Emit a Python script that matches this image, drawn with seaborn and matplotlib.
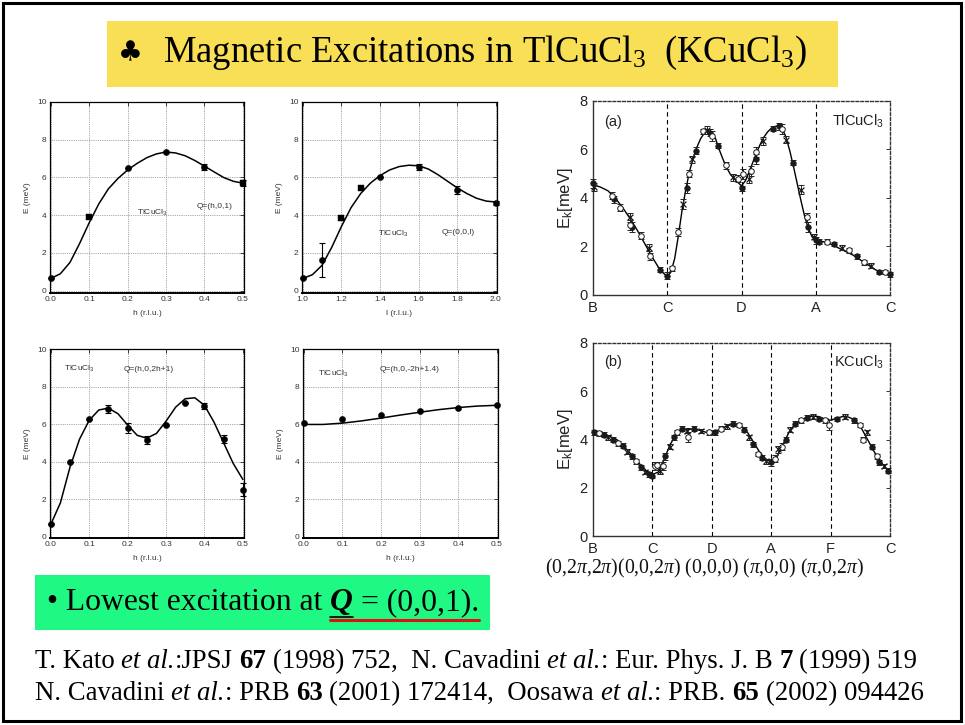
import matplotlib
matplotlib.use("Agg")
import numpy as np
import pandas as pd
import matplotlib.pyplot as plt
import seaborn as sns
from matplotlib.patches import Rectangle
from matplotlib.lines import Line2D

# ---------------- data ----------------
# Q = (h,0,1)
p1_h = [0.0, 0.1, 0.2, 0.3, 0.4, 0.5]
p1_E = [0.65, 3.9, 6.5, 7.35, 6.55, 5.7]
p1_err = [0.0, 0.0, 0.0, 0.0, 0.15, 0.15]
p1_mark = ["o", "s", "o", "o", "o", "s"]
p1_fit_h = [0.0, 0.025, 0.05, 0.075, 0.1, 0.125, 0.15, 0.175, 0.2, 0.225, 0.25,
            0.275, 0.3, 0.325, 0.35, 0.375, 0.4, 0.425, 0.45, 0.475, 0.5]
p1_fit_E = [0.65, 0.9, 1.5, 2.5, 3.6, 4.6, 5.4, 5.95, 6.4, 6.75, 7.05,
            7.25, 7.35, 7.3, 7.15, 6.9, 6.6, 6.3, 6.0, 5.8, 5.7]

# Q = (0,0,l)
p2_l = [1.0, 1.1, 1.2, 1.3, 1.4, 1.6, 1.8, 2.0]
p2_E = [0.65, 1.65, 3.85, 5.45, 6.05, 6.55, 5.35, 4.65]
p2_err = [0.0, 0.9, 0.0, 0.0, 0.0, 0.15, 0.2, 0.1]
p2_mark = ["o", "o", "s", "s", "o", "o", "o", "o"]
p2_fit_l = [1.0, 1.05, 1.1, 1.15, 1.2, 1.25, 1.3, 1.35, 1.4, 1.45, 1.5,
            1.55, 1.6, 1.65, 1.7, 1.75, 1.8, 1.85, 1.9, 1.95, 2.0]
p2_fit_E = [0.65, 0.85, 1.35, 2.3, 3.4, 4.4, 5.15, 5.7, 6.1, 6.4, 6.58,
            6.65, 6.62, 6.45, 6.15, 5.8, 5.45, 5.15, 4.9, 4.75, 4.7]

# Q = (h,0,2h+1)
p3_h = [0.0, 0.05, 0.1, 0.15, 0.2, 0.25, 0.3, 0.35, 0.4, 0.45, 0.5]
p3_E = [0.65, 4.0, 6.25, 6.8, 5.8, 5.15, 5.95, 7.1, 6.95, 5.2, 2.5]
p3_err = [0.0, 0.0, 0.0, 0.2, 0.25, 0.2, 0.0, 0.0, 0.15, 0.2, 0.35]
p3_fit_h = [0.0, 0.025, 0.05, 0.075, 0.1, 0.125, 0.15, 0.175, 0.2, 0.225, 0.25,
            0.275, 0.3, 0.325, 0.35, 0.375, 0.4, 0.425, 0.45, 0.475, 0.5]
p3_fit_E = [0.65, 1.8, 3.7, 5.2, 6.2, 6.75, 6.85, 6.55, 5.95, 5.4, 5.25,
            5.5, 6.15, 6.9, 7.35, 7.4, 7.0, 6.1, 5.0, 3.9, 3.05]

# Q = (h,0,-2h+1.4)
p4_h = [0.0, 0.1, 0.2, 0.3, 0.4, 0.5]
p4_E = [6.08, 6.28, 6.5, 6.67, 6.85, 7.01]
p4_fit_h = [0.0, 0.05, 0.1, 0.15, 0.2, 0.25, 0.3, 0.35, 0.4, 0.45, 0.5]
p4_fit_E = [5.98, 5.98, 6.05, 6.17, 6.32, 6.48, 6.63, 6.77, 6.88, 6.96, 7.0]

small_xticks_h = [0.0, 0.1, 0.2, 0.3, 0.4, 0.5]
small_xticks_l = [1.0, 1.2, 1.4, 1.6, 1.8, 2.0]
small_yticks = [0, 2, 4, 6, 8, 10]

# (a) TlCuCl3 along B-C-D-A-C
a_labels = ["B", "C", "D", "A", "C"]
a_fit_k = [0.0, 0.1, 0.2, 0.3, 0.4, 0.5, 0.6, 0.7, 0.8, 0.9, 1.0, 1.05, 1.1, 1.15,
           1.2, 1.25, 1.3, 1.35, 1.4, 1.45, 1.5, 1.55, 1.6, 1.65, 1.7, 1.75, 1.8,
           1.85, 1.9, 1.95, 2.0, 2.05, 2.1, 2.15, 2.2, 2.25, 2.3, 2.35, 2.4, 2.45,
           2.5, 2.55, 2.6, 2.65, 2.7, 2.75, 2.8, 2.85, 2.9, 2.95, 3.0, 3.1, 3.2,
           3.3, 3.4, 3.5, 3.6, 3.7, 3.8, 3.9, 4.0]
a_fit_E = [4.55, 4.45, 4.3, 4.0, 3.6, 3.15, 2.65, 2.1, 1.55, 1.05, 0.75, 0.95, 1.5,
           2.45, 3.5, 4.35, 5.1, 5.65, 6.1, 6.45, 6.68, 6.78, 6.72, 6.45, 6.0, 5.6,
           5.25, 4.98, 4.8, 4.65, 4.5, 4.7, 5.05, 5.45, 5.85, 6.2, 6.5, 6.72, 6.87,
           6.95, 6.98, 6.85, 6.5, 5.95, 5.3, 4.6, 3.9, 3.25, 2.75, 2.4, 2.25, 2.2,
           2.1, 1.95, 1.8, 1.65, 1.45, 1.25, 1.05, 0.9, 0.8]
a_k = [0.0, 0.02, 0.25, 0.28, 0.36, 0.5, 0.5, 0.52, 0.65, 0.76, 0.77, 0.9, 1.0, 1.06,
       1.15, 1.21, 1.26, 1.29, 1.33, 1.39, 1.48, 1.53, 1.58, 1.6, 1.68, 1.79, 1.88,
       1.95, 2.0, 2.02, 2.1, 2.13, 2.19, 2.2, 2.29, 2.43, 2.5, 2.55, 2.6, 2.69, 2.8,
       2.88, 2.9, 2.97, 3.0, 3.05, 3.15, 3.25, 3.35, 3.45, 3.55, 3.65, 3.75, 3.85,
       3.93, 4.0]
a_E = [4.6, 4.45, 4.1, 3.95, 3.6, 3.2, 2.9, 2.8, 2.45, 1.95, 1.6, 1.05, 0.8, 1.1,
       2.6, 3.75, 4.4, 5.0, 5.6, 5.95, 6.75, 6.8, 6.7, 6.55, 6.15, 5.35, 4.85,
       4.8, 4.4, 5.0, 4.8, 5.1, 5.6, 5.9, 6.35, 6.85, 6.95, 6.85, 6.4, 5.45, 4.35,
       3.2, 2.8, 2.4, 2.25, 2.2, 2.2, 2.1, 1.95, 1.85, 1.6, 1.35, 1.2, 0.95,
       0.95, 0.85]
a_err = [0.2, 0.15, 0.15, 0.15, 0.15, 0.2, 0.2, 0.2, 0.15, 0.15, 0.15, 0.1, 0.15, 0.1,
         0.15, 0.2, 0.2, 0.15, 0.15, 0.15, 0.1, 0.15, 0.15, 0.2, 0.1, 0.15, 0.15,
         0.15, 0.1, 0.2, 0.2, 0.2, 0.2, 0.2, 0.15, 0.1, 0.15, 0.2, 0.15, 0.1, 0.2,
         0.2, 0.2, 0.1, 0.15, 0.1, 0.1, 0.1, 0.1, 0.1, 0.1, 0.1, 0.1, 0.1,
         0.1, 0.1]
a_kind = ["f", "x", "o", "f", "o", "x", "o", "f", "o", "x", "o", "f", "f", "o",
          "o", "x", "f", "o", "x", "f", "o", "x", "f", "o", "f", "o", "x",
          "o", "f", "o", "x", "o", "f", "o", "x", "f", "f", "o", "x", "f", "x",
          "o", "f", "x", "f", "f", "o", "f", "x", "o", "f", "o", "x", "f",
          "o", "f"]

# (b) KCuCl3 along B-C-D-A-F-C
b_labels = ["B", "C", "D", "A", "F", "C"]
b_points = ["(0,2$\\pi$,2$\\pi$)", "(0,0,2$\\pi$)", "(0,0,0)", "($\\pi$,0,0)", "($\\pi$,0,2$\\pi$)"]
b_fit_k = [0.0, 0.2, 0.4, 0.6, 0.8, 0.9, 1.0, 1.1, 1.2, 1.3, 1.4, 1.5, 1.6, 1.7, 1.8,
           1.9, 2.0, 2.1, 2.2, 2.3, 2.4, 2.5, 2.6, 2.7, 2.8, 2.9, 3.0, 3.1, 3.2, 3.3,
           3.4, 3.5, 3.6, 3.7, 3.8, 3.9, 4.0, 4.1, 4.2, 4.3, 4.4, 4.5, 4.6, 4.7, 4.8,
           4.9, 5.0]
b_fit_E = [4.3, 4.22, 4.0, 3.5, 2.95, 2.7, 2.55, 2.65, 3.2, 3.8, 4.2, 4.4, 4.45, 4.42,
           4.38, 4.3, 4.3, 4.38, 4.5, 4.6, 4.65, 4.55, 4.3, 3.9, 3.5, 3.2, 3.1, 3.3,
           3.8, 4.3, 4.62, 4.8, 4.92, 4.97, 4.95, 4.85, 4.8, 4.88, 4.95, 4.93, 4.82,
           4.55, 4.1, 3.65, 3.2, 2.9, 2.65]
b_k = [0.02, 0.1, 0.18, 0.25, 0.33, 0.42, 0.5, 0.58, 0.65, 0.72, 0.8, 0.88, 0.95, 1.0,
       1.05, 1.08, 1.12, 1.18, 1.22, 1.3, 1.36, 1.42, 1.5, 1.58, 1.6, 1.7, 1.82, 1.95,
       2.05, 2.15, 2.25, 2.35, 2.45, 2.55, 2.62, 2.7, 2.78, 2.85, 2.92, 3.0, 3.06,
       3.12, 3.18, 3.25, 3.32, 3.4, 3.5, 3.6, 3.7, 3.8, 3.9, 3.98, 4.1, 4.25, 4.4,
       4.5, 4.55, 4.62, 4.7, 4.78, 4.82, 4.9, 4.97]
b_E = [4.3, 4.25, 4.2, 4.1, 4.0, 3.85, 3.75, 3.5, 3.3, 3.1, 2.85, 2.65, 2.55, 2.5,
       2.9, 2.95, 2.7, 2.9, 3.3, 3.7, 4.1, 4.3, 4.45, 4.35, 4.1, 4.45, 4.35, 4.3,
       4.3, 4.45, 4.55, 4.65, 4.6, 4.4, 4.1, 3.8, 3.4, 3.25, 3.1, 3.05, 3.2,
       3.6, 3.7, 4.0, 4.4, 4.65, 4.8, 4.9, 4.95, 4.85, 4.8, 4.6, 4.85, 4.95, 4.8,
       4.6, 4.0, 4.3, 3.7, 3.3, 3.05, 2.9, 2.7]
b_err = [0.1, 0.1, 0.1, 0.1, 0.1, 0.1, 0.1, 0.1, 0.1, 0.1, 0.1, 0.1, 0.1, 0.1,
         0.15, 0.1, 0.15, 0.15, 0.15, 0.1, 0.1, 0.1, 0.1, 0.1, 0.2, 0.1, 0.1, 0.1,
         0.1, 0.1, 0.1, 0.1, 0.1, 0.1, 0.1, 0.1, 0.1, 0.1, 0.1, 0.15, 0.15,
         0.15, 0.15, 0.1, 0.1, 0.1, 0.1, 0.1, 0.1, 0.1, 0.1, 0.2, 0.1, 0.1, 0.1,
         0.1, 0.1, 0.1, 0.1, 0.1, 0.1, 0.1, 0.1]
b_kind = ["f", "o", "f", "x", "f", "o", "f", "x", "f", "o", "f", "x", "f", "f",
          "o", "o", "x", "o", "f", "x", "f", "o", "f", "x", "o", "f", "x", "o",
          "f", "o", "x", "f", "o", "f", "x", "f", "o", "f", "x", "f", "o",
          "x", "o", "f", "x", "f", "o", "f", "x", "f", "o", "o", "f", "x", "f",
          "o", "o", "x", "f", "o", "f", "x", "f"]

# ---------------- style ----------------
sns.set_theme(style="white")
plt.rcParams["font.family"] = ["Liberation Sans", "DejaVu Sans"]
plt.rcParams["mathtext.fontset"] = "custom"
plt.rcParams["mathtext.rm"] = "Liberation Serif"
plt.rcParams["mathtext.it"] = "Liberation Serif:italic"
plt.rcParams["mathtext.bf"] = "Liberation Serif:bold"
plt.rcParams["mathtext.sf"] = "Liberation Sans"

W, H = 965, 725
fig = plt.figure(figsize=(W / 100, H / 100), dpi=100)
fig.patch.set_facecolor("white")


def ax_at(l, t, r, b):
    return fig.add_axes([l / W, 1 - b / H, (r - l) / W, (b - t) / H])


def fy(y):
    return 1 - y / H


def style_small(ax, xticks, xlim, ylim, xlabel):
    ax.set_xlim(*xlim)
    ax.set_ylim(*ylim)
    ax.set_xticks(xticks)
    ax.set_xticklabels([f"{v:.1f}" for v in xticks])
    ax.set_yticks(small_yticks)
    ax.set_yticklabels([str(v) for v in small_yticks])
    ax.grid(True, color="#8a8a8a", linestyle=(0, (1, 1.2)), linewidth=0.6)
    ax.tick_params(direction="in", length=3, width=0.6, top=True, right=True,
                   labelsize=6, labelcolor="#333333", pad=2.5, colors="#222222")
    for s in ax.spines.values():
        s.set_color("black")
        s.set_linewidth(0.9)
    ax.spines["bottom"].set_linewidth(1.4)
    ax.set_xlabel(xlabel, fontsize=6, color="#333333", labelpad=5)
    ax.set_ylabel("E (meV)", fontsize=6, color="#333333", labelpad=4)


def draw_points(ax, x, y, err=None, marks=None):
    df = pd.DataFrame({"x": x, "y": y, "m": marks if marks else ["o"] * len(x)})
    if err is not None:
        ax.errorbar(x, y, yerr=err, fmt="none", ecolor="black", elinewidth=0.8,
                    capsize=2.2, capthick=0.8, zorder=3, clip_on=False)
    for m in ["o", "s"]:
        sub = df[df["m"] == m]
        if len(sub):
            sns.scatterplot(data=sub, x="x", y="y", marker=m, color="black",
                            s=20 if m == "o" else 18, edgecolor="black", linewidth=0.3,
                            legend=False, ax=ax, zorder=4, clip_on=False)


def draw_fit(ax, x, y, lw=1.1):
    sns.lineplot(x=x, y=y, color="black", linewidth=lw, estimator=None,
                 sort=False, ax=ax, zorder=2)


# ---------------- small panels ----------------
ax1 = ax_at(50, 102, 244, 293)
draw_fit(ax1, p1_fit_h, p1_fit_E)
draw_points(ax1, p1_h, p1_E, p1_err, p1_mark)
style_small(ax1, small_xticks_h, (-0.002, 0.503), (-0.12, 10), "h (r.l.u.)")
ax1.text(0.265, 4.1, "TlCuCl$_\\mathsf{3}$", fontsize=6, color="#333333", ha="center", va="center")
ax1.text(0.427, 4.45, "Q=(h,0,1)", fontsize=6, color="#333333", ha="center", va="center")

ax2 = ax_at(302, 102, 497, 293)
draw_fit(ax2, p2_fit_l, p2_fit_E)
draw_points(ax2, p2_l, p2_E, p2_err, p2_mark)
style_small(ax2, small_xticks_l, (0.996, 2.006), (-0.12, 10), "l (r.l.u.)")
ax2.text(1.47, 3.0, "TlCuCl$_\\mathsf{3}$", fontsize=6, color="#333333", ha="center", va="center")
ax2.text(1.805, 3.07, "Q=(0,0,l)", fontsize=6, color="#333333", ha="center", va="center")

ax3 = ax_at(50, 349, 244, 538)
draw_fit(ax3, p3_fit_h, p3_fit_E)
draw_points(ax3, p3_h, p3_E, p3_err)
style_small(ax3, small_xticks_h, (-0.002, 0.503), (-0.07, 10), "h (r.l.u.)")
ax3.text(0.074, 8.93, "TlCuCl$_\\mathsf{3}$", fontsize=6, color="#333333", ha="center", va="center")
ax3.text(0.255, 8.93, "Q=(h,0,2h+1)", fontsize=6, color="#333333", ha="center", va="center")

ax4 = ax_at(303, 349, 498, 538)
draw_fit(ax4, p4_fit_h, p4_fit_E)
draw_points(ax4, p4_h, p4_E)
style_small(ax4, small_xticks_h, (-0.002, 0.503), (-0.07, 10), "h (r.l.u.)")
ax4.text(0.077, 8.67, "TlCuCl$_\\mathsf{3}$", fontsize=6, color="#333333", ha="center", va="center")
ax4.text(0.274, 8.93, "Q=(h,0,-2h+1.4)", fontsize=6, color="#333333", ha="center", va="center")


# ---------------- dispersion panels ----------------
def style_big(ax, labels, sym_lines):
    n = len(labels) - 1
    ax.set_xlim(0, n)
    ax.set_ylim(0, 8)
    ax.set_xticks(range(len(labels)))
    ax.set_xticklabels(labels)
    ax.set_yticks([0, 2, 4, 6, 8])
    ax.tick_params(direction="in", length=3, width=0.7, right=True, top=False,
                   labelsize=10.5, labelcolor="#222222", pad=4, colors="#333333")
    for k in sym_lines:
        ax.axvline(k, color="black", linestyle=(0, (4, 3)), linewidth=0.8, zorder=1)
    ax.grid(False)
    for name, s in ax.spines.items():
        s.set_color("#333333")
        s.set_linewidth(1.0)
    ax.spines["top"].set_linestyle((0, (2, 1.5)))
    ax.spines["right"].set_linestyle((0, (2, 1.5)))
    ax.set_ylabel("E$_\\mathsf{k}$[meV]", fontsize=12, color="#222222", labelpad=3)


def draw_dispersion(ax, k, E, err, kind, fk, fE):
    draw_fit(ax, fk, fE, lw=1.0)
    ax.errorbar(k, E, yerr=err, fmt="none", ecolor="#222222", elinewidth=0.7,
                capsize=2.0, capthick=0.7, zorder=3, clip_on=False)
    df = pd.DataFrame({"k": k, "E": E, "kind": kind})
    sub = df[df["kind"] == "f"]
    sns.scatterplot(data=sub, x="k", y="E", marker="o", s=16, color="#1a1a1a",
                    edgecolor="#1a1a1a", linewidth=0.5, legend=False, ax=ax, zorder=4,
                    clip_on=False)
    sub = df[df["kind"] == "o"]
    sns.scatterplot(data=sub, x="k", y="E", marker="o", s=16, facecolor="white",
                    edgecolor="#1a1a1a", linewidth=0.7, legend=False, ax=ax, zorder=4,
                    clip_on=False)
    sub = df[df["kind"] == "x"]
    sns.scatterplot(data=sub, x="k", y="E", marker="x", s=18, color="#1a1a1a",
                    linewidth=0.9, legend=False, ax=ax, zorder=4, clip_on=False)


axa = ax_at(593, 101, 890, 295)
draw_dispersion(axa, a_k, a_E, a_err, a_kind, a_fit_k, a_fit_E)
style_big(axa, a_labels, [1, 2, 3])
axa.set_xlabel("")
axa.text(0.27, 7.15, "(a)", fontsize=10.5, color="#222222", ha="center", va="center")
axa.text(3.92, 7.15, "TlCuCl$_\\mathsf{3}$", fontsize=10.5, color="#222222", ha="right", va="center")

axb = ax_at(593, 343, 890, 536)
draw_dispersion(axb, b_k, b_E, b_err, b_kind, b_fit_k, b_fit_E)
style_big(axb, b_labels, [1, 2, 3, 4])
axb.set_xlabel("")
axb.text(0.34, 7.2, "(b)", fontsize=10.5, color="#222222", ha="center", va="center")
axb.text(4.9, 7.2, "KCuCl$_\\mathsf{3}$", fontsize=10.5, color="#222222", ha="right", va="center")

fig.text(545 / W, fy(568), "".join([b_points[0], b_points[1], " ", b_points[2], " ",
                                      b_points[3], " ", b_points[4]]),
         family="Liberation Serif", fontsize=14.2, color="#111111", ha="left", va="center")

# ---------------- slide decorations ----------------
fig.patches.append(Rectangle((3 / W, fy(721)), 958 / W, 718 / H, transform=fig.transFigure,
                             fill=False, edgecolor="black", linewidth=2.2, zorder=0))
fig.patches.append(Rectangle((107 / W, fy(86.5)), (838 - 107) / W, (86.5 - 21) / H,
                             transform=fig.transFigure, facecolor="#F9DF55",
                             edgecolor="none", zorder=0))
fig.patches.append(Rectangle((35 / W, fy(630)), (490 - 35) / W, (630 - 575) / H,
                             transform=fig.transFigure, facecolor="#1FF984",
                             edgecolor="none", zorder=0))

fig.text(130 / W, fy(53), "\u2663", family="DejaVu Sans", fontsize=20, ha="center",
         va="center", color="black")
fig.text(163 / W, fy(62), "Magnetic Excitations in TlCuCl$_3$  (KCuCl$_3$)",
         family="Liberation Serif", fontsize=26.4, ha="left", va="baseline", color="black")

renderer = fig.canvas.get_renderer()


def rich_line(x_px, y_px, parts, size):
    sp = size * 100 / 72 * 0.25
    x = x_px
    items = []
    for s, kw in parts:
        lead = len(s) - len(s.lstrip(" "))
        trail = len(s) - len(s.rstrip(" "))
        core = s.strip(" ")
        x += lead * sp
        t = fig.text(x / W, fy(y_px), core, fontsize=size, family="Liberation Serif",
                     ha="left", va="baseline", color="black", **kw)
        bb = t.get_window_extent(renderer)
        items.append((x, bb.x1))
        x = bb.x1 + trail * sp
    return items


IT = {"style": "italic"}
BF = {"weight": "bold"}
N = {}
spans = rich_line(47, 610, [("\u2022 Lowest excitation at ", N),
                            ("Q", {"style": "italic", "weight": "bold"}),
                            (" = (0,0,1).", N)], 22.8)
q0, q1 = spans[1]
end = spans[2][1]
fig.add_artist(Line2D([q0 / W, end / W], [fy(619.5), fy(619.5)], color="#E01010", linewidth=2.2))
fig.add_artist(Line2D([q0 / W, q1 / W], [fy(617), fy(617)], color="black", linewidth=1.2))

rich_line(35, 668, [("T. Kato ", N), ("et al.", IT), (":JPSJ ", N), ("67", BF),
                    (" (1998) 752,  N. Cavadini ", N), ("et al.", IT),
                    (": Eur. Phys. J. B ", N), ("7", BF), (" (1999) 519", N)], 19.3)
rich_line(35, 700, [("N. Cavadini ", N), ("et al.", IT), (": PRB ", N), ("63", BF),
                    (" (2001) 172414,  Oosawa ", N), ("et al.", IT), (": PRB. ", N),
                    ("65", BF), (" (2002) 094426", N)], 19.3)

fig.savefig("out.png", dpi=100)
